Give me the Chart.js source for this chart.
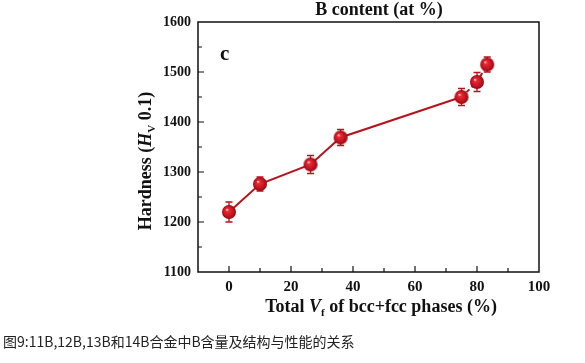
<!DOCTYPE html>
<html>
<head>
<meta charset="utf-8">
<script src="https://cdn.jsdelivr.net/npm/chart.js@4"></script>
<style>
  html,body{margin:0;padding:0;background:#fff;}
  #wrap{position:relative;width:585px;height:363px;}
  #caption{position:absolute;left:3px;top:331px;font:14px "Noto Sans CJK SC",sans-serif;color:#222;white-space:nowrap;}
</style>
</head>
<body>
<div id="wrap">
  <canvas id="chartDureza" width="585" height="363"></canvas>
  <div id="caption">图9:11B,12B,13B和14B合金中B含量及结构与性能的关系</div>
</div>
<script>
// dados
const fracaoVf   = [0, 10, 26.3, 36, 75, 80, 83.3];
const dureza     = [1220, 1276, 1315, 1369, 1450, 1480, 1515];
const erroDureza = [20, 14, 18, 16, 17, 19, 15];
const ticksX     = [0, 20, 40, 60, 80, 100];
const ticksY     = [1100, 1200, 1300, 1400, 1500, 1600];

const VERMELHO = '#b8121c';
const SERIF = '"Liberation Serif","Times New Roman",serif';

// esfera 3D como pointStyle
function criaEsfera(r){
  const c = document.createElement('canvas');
  c.width = c.height = r*2+2;
  const g = c.getContext('2d');
  const cx = r+1, cy = r+1;
  const grad = g.createRadialGradient(cx-r*0.3, cy-r*0.35, r*0.05, cx, cy, r);
  grad.addColorStop(0, '#ffc8c8');
  grad.addColorStop(0.2, '#e82a34');
  grad.addColorStop(0.75, '#c0101c');
  grad.addColorStop(1, '#8a0812');
  g.fillStyle = grad;
  g.beginPath(); g.arc(cx, cy, r, 0, Math.PI*2); g.fill();
  return c;
}
const esfera = criaEsfera(7);

// barras de erro + moldura + ticks internos + títulos
const pluginExtras = {
  id: 'extras',
  beforeDatasetsDraw(chart){
    const ctx = chart.ctx, sx = chart.scales.x, sy = chart.scales.y;
    ctx.save();
    ctx.strokeStyle = VERMELHO; ctx.lineWidth = 1.3;
    fracaoVf.forEach((v,i)=>{
      const x = sx.getPixelForValue(v);
      const y1 = sy.getPixelForValue(dureza[i]+erroDureza[i]);
      const y2 = sy.getPixelForValue(dureza[i]-erroDureza[i]);
      ctx.beginPath();
      ctx.moveTo(x,y1); ctx.lineTo(x,y2);
      ctx.moveTo(x-3.5,y1); ctx.lineTo(x+3.5,y1);
      ctx.moveTo(x-3.5,y2); ctx.lineTo(x+3.5,y2);
      ctx.stroke();
    });
    ctx.restore();
  },
  afterDraw(chart){
    const ctx = chart.ctx, a = chart.chartArea, sx = chart.scales.x, sy = chart.scales.y;
    ctx.save();
    ctx.strokeStyle = '#111'; ctx.lineWidth = 1.5;
    ctx.strokeRect(a.left, a.top, a.right-a.left, a.bottom-a.top);
    ctx.lineWidth = 1.2;
    ctx.beginPath();
    for(let v=0; v<100; v+=10){
      const x = sx.getPixelForValue(v), L = (v%20===0)?6:4;
      ctx.moveTo(x,a.bottom); ctx.lineTo(x,a.bottom-L);
    }
    for(let v=1150; v<1600; v+=50){
      const y = sy.getPixelForValue(v), L = (v%100===0)?6:4;
      ctx.moveTo(a.left,y); ctx.lineTo(a.left+L,y);
    }
    ctx.stroke();

    ctx.fillStyle = '#111';
    ctx.textBaseline = 'middle';
    // letra do painel
    ctx.font = 'bold 21px '+SERIF; ctx.textAlign = 'left';
    ctx.fillText('c', 220, 55);
    // título superior
    ctx.font = 'bold 18px '+SERIF; ctx.textAlign = 'center';
    ctx.fillText('B content (at %)', 379, 10);

    // título eixo x com V subscrito f
    const partesX = [['Total ','bold 18px '+SERIF,0],['V','italic bold 18px '+SERIF,0],['f','bold 11px '+SERIF,6],[' of bcc+fcc phases (%)','bold 18px '+SERIF,0]];
    desenhaPartes(ctx, partesX, 381, 307);

    // título eixo y rotacionado
    ctx.translate(146, 161); ctx.rotate(-Math.PI/2);
    const partesY = [['Hardness (','bold 18px '+SERIF,0],['H','italic bold 18px '+SERIF,0],['V','bold 11px '+SERIF,6],[' 0.1)','bold 18px '+SERIF,0]];
    desenhaPartes(ctx, partesY, 0, 0);
    ctx.restore();
  }
};

function desenhaPartes(ctx, partes, cx, cy){
  let total = 0;
  partes.forEach(([t,f])=>{ ctx.font=f; total += ctx.measureText(t).width; });
  let x = cx - total/2;
  ctx.textAlign = 'left';
  partes.forEach(([t,f,dy])=>{ ctx.font=f; ctx.fillText(t, x, cy+dy); x += ctx.measureText(t).width; });
}

new Chart(document.getElementById('chartDureza').getContext('2d'), {
  type: 'scatter',
  data: {
    datasets: [{
      data: fracaoVf.map((v,i)=>({x:v, y:dureza[i]})),
      showLine: true,
      borderColor: VERMELHO,
      borderWidth: 2,
      pointStyle: esfera,
      pointRadius: 7,
      pointHoverRadius: 7,
      segment: { borderDash: c => c.p0DataIndex >= 4 ? [4,3] : undefined }
    }]
  },
  options: {
    responsive: false,
    animation: false,
    events: [],
    layout: { padding: { top: 22, right: 46, left: 0, bottom: 0 } },
    plugins: { legend: { display: false }, tooltip: { enabled: false } },
    scales: {
      x: {
        type: 'linear', min: -10, max: 100,
        afterBuildTicks: s => { s.ticks = ticksX.map(v=>({value:v})); },
        afterFit: s => { s.height = 91; },
        grid: { display: false, drawTicks: false },
        border: { display: false },
        ticks: { color: '#111', padding: 6, callback: v => String(v), font: { family: SERIF, size: 15, weight: 'bold' } }
      },
      y: {
        type: 'linear', min: 1100, max: 1600,
        afterBuildTicks: s => { s.ticks = ticksY.map(v=>({value:v})); },
        afterFit: s => { s.width = 198; },
        grid: { display: false, drawTicks: false },
        border: { display: false },
        ticks: { color: '#111', padding: 7, callback: v => String(v), font: { family: SERIF, size: 14, weight: 'bold' } }
      }
    }
  },
  plugins: [pluginExtras]
});
</script>
</body>
</html>
